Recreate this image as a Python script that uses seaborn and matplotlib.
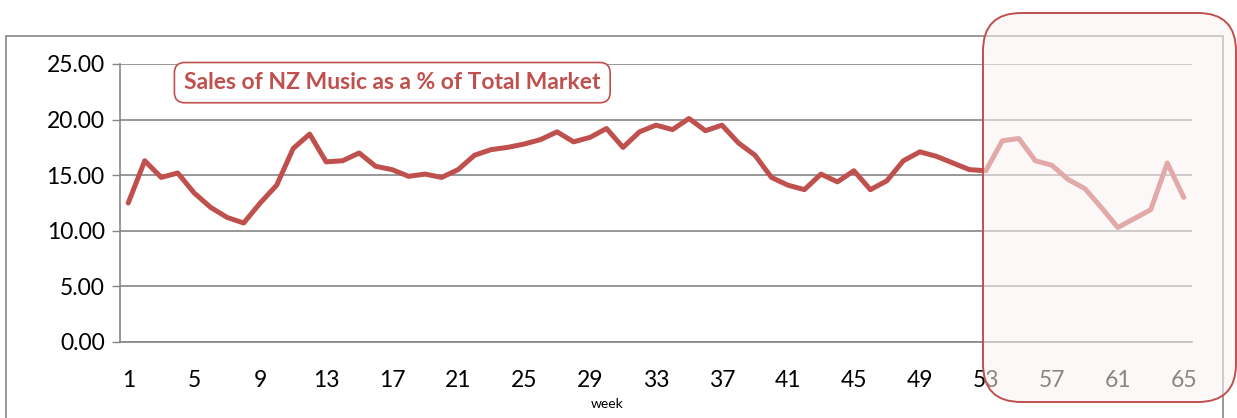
import numpy as np
import pandas as pd
import matplotlib
matplotlib.use('Agg')
import matplotlib.pyplot as plt
import seaborn as sns
from matplotlib.patches import FancyBboxPatch, Rectangle
from matplotlib.ticker import FixedLocator, FormatStrFormatter

# weekly share of NZ music (% of total market)
weeks = list(range(1, 66))
nz_share = [12.5, 16.3, 14.8, 15.2, 13.4, 12.1, 11.2, 10.7, 12.5, 14.1,
            17.4, 18.7, 16.2, 16.3, 17.0, 15.8, 15.5, 14.9, 15.1, 14.8,
            15.5, 16.8, 17.3, 17.5, 17.8, 18.2, 18.9, 18.0, 18.4, 19.2,
            17.5, 18.9, 19.5, 19.1, 20.1, 19.0, 19.5, 17.9, 16.8, 14.8,
            14.1, 13.7, 15.1, 14.4, 15.4, 13.7, 14.5, 16.3, 17.1, 16.7,
            16.1, 15.5, 15.4, 18.1, 18.3, 16.3, 15.9, 14.6, 13.8, 12.1,
            10.3, 11.1, 11.9, 16.1, 13.0]
week_labels = list(range(1, 66, 4))
y_ticks = [0, 5, 10, 15, 20, 25]

df = pd.DataFrame({'week': weeks, 'share': nz_share})

sns.set_style('white')
plt.rcParams['font.family'] = ['Lato', 'DejaVu Sans']

red = '#C0504D'
grey = '#868686'

fig = plt.figure(figsize=(12.37, 4.18), dpi=100)
ax = fig.add_axes([120 / 1237, 1 - 342 / 418, (1192 - 120) / 1237, (342 - 64) / 418])

sns.lineplot(data=df, x='week', y='share', color=red, linewidth=3.6, ax=ax, zorder=3)

ax.set_xlim(0.5, 65.5)
ax.set_ylim(0, 25)
ax.set_yticks(y_ticks)
ax.yaxis.set_major_formatter(FormatStrFormatter('%.2f'))
ax.set_xticks(week_labels)
ax.xaxis.set_minor_locator(FixedLocator(np.arange(0.5, 66, 1)))
ax.tick_params(axis='x', which='major', length=0, pad=20, labelsize=16.5, labelcolor='black')
ax.tick_params(axis='x', which='minor', length=5, width=1, color=grey, direction='out')
ax.tick_params(axis='y', which='major', length=6, width=1, color=grey, pad=5, labelsize=16.5,
               labelcolor='black', left=True)
ax.set_xlabel('')
ax.set_ylabel('')
ax.grid(axis='y', color=grey, linewidth=1.2)
for s in ['top', 'right']:
    ax.spines[s].set_visible(False)
for s in ['left', 'bottom']:
    ax.spines[s].set_color(grey)
    ax.spines[s].set_linewidth(1.2)

ax.text(0.254, 0.933, 'Sales of NZ Music as a % of Total Market', transform=ax.transAxes,
        ha='center', va='center', fontsize=16.5, fontweight='bold', color=red,
        bbox=dict(boxstyle='round,pad=0.42,rounding_size=0.45', fc='white', ec=red, lw=1.2))

fig.text(607 / 1237, 1 - 404 / 418, 'week', ha='center', va='center', fontsize=10, color='black')

# outer chart frame
fig.patches.append(Rectangle((6 / 100, -0.2), (1223 - 6) / 100, (418 - 36) / 100 + 0.2,
                             transform=fig.dpi_scale_trans, fill=False, ec=grey, lw=1.2, zorder=0))

# highlight box over recent weeks
fig.patches.append(FancyBboxPatch((983 / 100, (418 - 402) / 100), (1236 - 983) / 100, (402 - 13) / 100,
                                  boxstyle='round,pad=0,rounding_size=0.38',
                                  transform=fig.dpi_scale_trans, fc='#fdf4f4', alpha=0.55,
                                  ec='none', zorder=10))
fig.patches.append(FancyBboxPatch((983 / 100, (418 - 402) / 100), (1236 - 983) / 100, (402 - 13) / 100,
                                  boxstyle='round,pad=0,rounding_size=0.38',
                                  transform=fig.dpi_scale_trans, fill=False,
                                  ec=red, lw=1.4, zorder=11))

fig.savefig('out.png', dpi=100)
